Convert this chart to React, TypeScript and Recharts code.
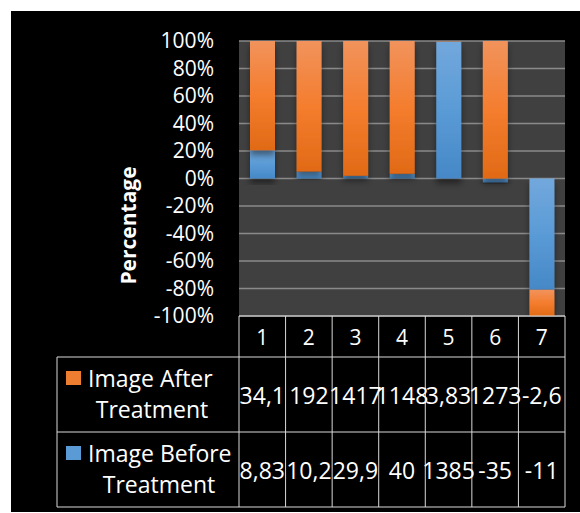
import { BarChart, Bar, XAxis, YAxis, CartesianGrid, Label } from 'recharts';

const categories = ['1', '2', '3', '4', '5', '6', '7'];
const afterValues = [34.1, 192, 1417, 1148, 3.83, 1273, -2.6];
const beforeValues = [8.83, 10.2, 29.9, 40, 1385, -35, -11];
const yTicks = [-100, -80, -60, -40, -20, 0, 20, 40, 60, 80, 100];

const seriesNames = ['Image After Treatment', 'Image Before Treatment'];
const seriesColors = ['#ED7D31', '#5B9BD5'];

const LINE = '#d9d9d9';
const FONT = '"Open Sans", Lato, sans-serif';
const FS = 21;
const TABLE_FS = 23;

// 100% stacked: each value as a share of the column total (Excel style)
const chartData = categories.map((name, i) => {
  const total = Math.abs(afterValues[i] + beforeValues[i]);
  return {
    name,
    after: (afterValues[i] / total) * 100,
    before: (beforeValues[i] / total) * 100,
  };
});

const fmt = (v: number) => String(v).replace('.', ',');

// table row heights under the plot
const HEAD_H = 41;
const ROW_H = 75;

const TableTick = (props: any) => {
  const { x, y, payload, index } = props;
  const half = payload.offset || 23.3;
  const bottom = y + HEAD_H + ROW_H * 2;
  return (
    <g>
      {index === 0 && <line x1={x - half} x2={x - half} y1={y} y2={bottom} stroke={LINE} />}
      <line x1={x + half} x2={x + half} y1={y} y2={bottom} stroke={LINE} />
      <text x={x} y={y + HEAD_H / 2} fill="#fff" fontSize={FS} textAnchor="middle" dominantBaseline="central">
        {payload.value}
      </text>
      <text x={x} y={y + HEAD_H + ROW_H / 2} fill="#fff" fontSize={TABLE_FS} textAnchor="middle" dominantBaseline="central">
        {fmt(afterValues[index])}
      </text>
      <text x={x} y={y + HEAD_H + ROW_H * 1.5} fill="#fff" fontSize={TABLE_FS} textAnchor="middle" dominantBaseline="central">
        {fmt(beforeValues[index])}
      </text>
    </g>
  );
};

const TableFrame = (props: any) => {
  const { x, y, width } = props.viewBox;
  const left = x - 182;
  const right = x + width;
  const rows = [y + HEAD_H, y + HEAD_H + ROW_H, y + HEAD_H + ROW_H * 2];
  const centers = [141, 148];
  return (
    <g>
      <line x1={x} x2={right} y1={y} y2={y} stroke={LINE} />
      {rows.map((ry) => (
        <line key={ry} x1={left} x2={right} y1={ry} y2={ry} stroke={LINE} />
      ))}
      <line x1={left} x2={left} y1={rows[0]} y2={rows[2]} stroke={LINE} />
      {seriesNames.map((name, i) => {
        const top = rows[0] + ROW_H * i;
        const words = name.split(' ');
        return (
          <g key={name}>
            <rect x={left + 9} y={top + 14} width={15} height={14} fill={seriesColors[i]} />
            <text x={left + 31} y={top + 21} fill="#fff" fontSize={TABLE_FS} dominantBaseline="central">
              {words.slice(0, 2).join(' ')}
            </text>
            <text x={centers[i]} y={top + 52} fill="#fff" fontSize={TABLE_FS} textAnchor="middle" dominantBaseline="central">
              {words.slice(2).join(' ')}
            </text>
          </g>
        );
      })}
    </g>
  );
};

const AxisTitle = (props: any) => {
  const { x, y, height } = props.viewBox;
  const cx = x + 117;
  const cy = y + height / 2 + 47;
  return (
    <text
      x={cx}
      y={cy}
      transform={`rotate(-90 ${cx} ${cy})`}
      fill="#fff"
      fontSize={FS}
      fontWeight="bold"
      textAnchor="middle"
      dominantBaseline="central"
    >
      Percentage
    </text>
  );
};

export default function App() {
  return (
    <div style={{ position: 'absolute', left: 0, top: 0, width: 580, height: 513, background: '#fff', fontFamily: FONT }}>
      <div style={{ position: 'absolute', left: 11, top: 11, width: 569, height: 501, background: '#000' }}>
        <BarChart
          width={569}
          height={501}
          data={chartData}
          stackOffset="sign"
          barSize={25}
          margin={{ top: 30, right: 15, bottom: 0, left: 0 }}
        >
          <defs>
            <linearGradient id="gradAfter" x1="0" y1="0" x2="0" y2="1">
              <stop offset="0%" stopColor="#F1935C" />
              <stop offset="50%" stopColor="#F47D2E" />
              <stop offset="100%" stopColor="#E16A16" />
            </linearGradient>
            <linearGradient id="gradBefore" x1="0" y1="0" x2="0" y2="1">
              <stop offset="0%" stopColor="#72A8DC" />
              <stop offset="50%" stopColor="#5A9BD6" />
              <stop offset="100%" stopColor="#4688C7" />
            </linearGradient>
            <filter id="barShadow" x="-30%" y="-10%" width="160%" height="130%">
              <feDropShadow dx="0" dy="5" stdDeviation="3" floodColor="#000" floodOpacity="0.45" />
            </filter>
          </defs>
          <CartesianGrid vertical={false} stroke="#8a8a8a" strokeWidth={1.5} fill="#404040" />
          <XAxis
            dataKey="name"
            height={196}
            interval={0}
            tickLine={false}
            axisLine={false}
            tickSize={0}
            tickMargin={0}
            tick={<TableTick />}
          >
            <Label content={TableFrame} />
          </XAxis>
          <YAxis
            width={228}
            domain={[-100, 100]}
            ticks={yTicks}
            interval={0}
            allowDataOverflow
            tickLine={false}
            axisLine={false}
            tickSize={0}
            tickMargin={25}
            tick={{ fill: '#fff', fontSize: FS }}
            tickFormatter={(v: number) => `${v}%`}
          >
            <Label content={AxisTitle} />
          </YAxis>
          <Bar dataKey="before" stackId="a" fill="url(#gradBefore)" filter="url(#barShadow)" isAnimationActive={false} />
          <Bar dataKey="after" stackId="a" fill="url(#gradAfter)" filter="url(#barShadow)" isAnimationActive={false} />
        </BarChart>
      </div>
    </div>
  );
}
